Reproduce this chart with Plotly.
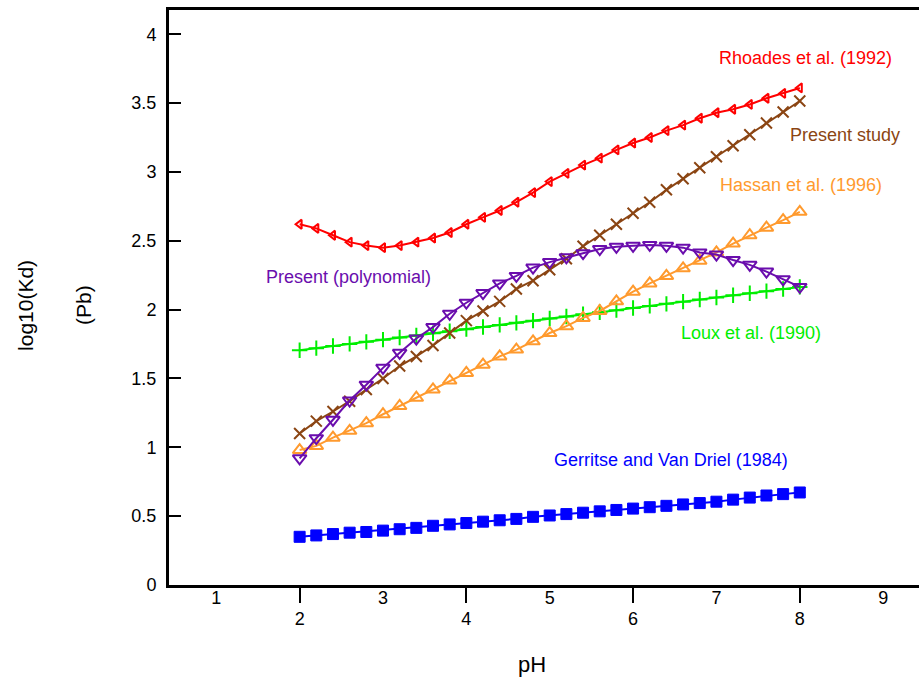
import plotly.graph_objects as go

# ---- data ----
ph = [2.0, 2.2, 2.4, 2.6, 2.8, 3.0, 3.2, 3.4, 3.6, 3.8, 4.0, 4.2, 4.4, 4.6, 4.8,
      5.0, 5.2, 5.4, 5.6, 5.8, 6.0, 6.2, 6.4, 6.6, 6.8, 7.0, 7.2, 7.4, 7.6, 7.8, 8.0]

rhoades = [2.62, 2.59, 2.54, 2.49, 2.465, 2.45, 2.465, 2.49, 2.52, 2.56, 2.62,
           2.67, 2.72, 2.78, 2.85, 2.93, 2.99, 3.05, 3.10, 3.16, 3.21,
           3.25, 3.30, 3.34, 3.39, 3.43, 3.455, 3.49, 3.535, 3.57, 3.61]

present_study = [1.10, 1.19, 1.26, 1.335, 1.42, 1.50, 1.59, 1.66, 1.74, 1.83, 1.92,
                 1.99, 2.06, 2.15, 2.21, 2.29, 2.37, 2.46, 2.54, 2.62, 2.70,
                 2.78, 2.87, 2.95, 3.03, 3.11, 3.19, 3.27, 3.355, 3.435, 3.515]

hassan = [0.98, 1.01, 1.07, 1.12, 1.175, 1.24, 1.30, 1.36, 1.42, 1.485, 1.54,
          1.60, 1.66, 1.71, 1.77, 1.83, 1.88, 1.94, 1.99, 2.06, 2.13,
          2.19, 2.245, 2.30, 2.355, 2.415, 2.48, 2.54, 2.595, 2.65, 2.71]

polynomial = [0.92, 1.066, 1.20, 1.34, 1.455, 1.577, 1.686, 1.79, 1.873, 1.97, 2.05,
              2.12, 2.19, 2.245, 2.305, 2.345, 2.38, 2.41, 2.44, 2.456, 2.463,
              2.47, 2.463, 2.45, 2.415, 2.40, 2.36, 2.325, 2.276, 2.22, 2.165]

loux = [1.705, 1.72, 1.736, 1.751, 1.766, 1.782, 1.797, 1.812, 1.828, 1.843, 1.858,
        1.874, 1.889, 1.904, 1.92, 1.935, 1.95, 1.966, 1.981, 1.996, 2.012,
        2.027, 2.042, 2.058, 2.073, 2.088, 2.104, 2.119, 2.134, 2.15, 2.165]

gerritse = [0.35, 0.36, 0.37, 0.38, 0.385, 0.395, 0.405, 0.415, 0.43, 0.44, 0.45,
            0.46, 0.47, 0.48, 0.495, 0.505, 0.515, 0.525, 0.535, 0.545, 0.555,
            0.565, 0.575, 0.585, 0.595, 0.605, 0.62, 0.635, 0.65, 0.66, 0.672]

series_names = ["Rhoades et al. (1992)", "Present study", "Hassan et al. (1996)",
                "Present (polynomial)", "Loux et al. (1990)", "Gerritse and Van Driel (1984)"]

x_even_ticks = [2, 4, 6, 8]
x_odd_ticks = [1, 3, 5, 7, 9]
y_ticks = [0, 0.5, 1, 1.5, 2, 2.5, 3, 3.5, 4]
y_tick_labels = ["0", "0.5", "1", "1.5", "2", "2.5", "3", "3.5", "4"]

# ---- styles ----
FONT = "Liberation Sans, Arial, sans-serif"
RED = "#ff0000"
BROWN = "#8b4513"
ORANGE = "#ff9a2e"
PURPLE = "#6a0dad"
GREEN = "#00ee00"
BLUE = "#0000ff"

X_RANGE = [0.433, 9.43]
Y_RANGE = [0, 4.176]

fig = go.Figure()

def add(y, color, symbol, size, name, lw_marker=2):
    fig.add_trace(go.Scatter(
        x=ph, y=y, mode="lines+markers", name=name,
        line=dict(color=color, width=2),
        marker=dict(symbol=symbol, size=size, color=color,
                    line=dict(color=color, width=lw_marker)),
        showlegend=False))

add(gerritse, BLUE, "square", 11, series_names[5], 1)
add(loux, GREEN, "cross-thin", 11, series_names[4])
add(hassan, ORANGE, "triangle-up-open", 12, series_names[2])
add(present_study, BROWN, "x-thin", 11, series_names[1])
add(polynomial, PURPLE, "triangle-down-open", 12, series_names[3])
add(rhoades, RED, "triangle-left-open", 8, series_names[0])

# invisible trace to carry the second (odd-label) x axis
fig.add_trace(go.Scatter(x=[X_RANGE[0]], y=[0], xaxis="x2", mode="markers",
                         marker=dict(opacity=0), showlegend=False, hoverinfo="skip"))

labels = [
    (series_names[0], 8.07, 3.83, RED),
    (series_names[1], 8.54, 3.27, BROWN),
    (series_names[2], 8.01, 2.905, ORANGE),
    (series_names[3], 2.59, 2.237, PURPLE),
    (series_names[4], 7.42, 1.83, GREEN),
    (series_names[5], 6.46, 0.908, BLUE),
]
for text, x, y, c in labels:
    fig.add_annotation(x=x, y=y, xref="x", yref="y", text=text, showarrow=False,
                       font=dict(family=FONT, size=18, color=c),
                       xanchor="center", yanchor="middle")

fig.add_annotation(x=0.484, y=-0.139, xref="paper", yref="paper", text="pH",
                   showarrow=False, font=dict(family=FONT, size=22, color="black"),
                   xanchor="center", yanchor="middle")
fig.add_annotation(x=-0.1907, y=0.487, xref="paper", yref="paper", text="log10(Kd)",
                   textangle=-90, showarrow=False,
                   font=dict(family=FONT, size=21, color="black"),
                   xanchor="center", yanchor="middle")
fig.add_annotation(x=-0.1133, y=0.487, xref="paper", yref="paper", text="(Pb)",
                   textangle=-90, showarrow=False,
                   font=dict(family=FONT, size=21, color="black"),
                   xanchor="center", yanchor="middle")

fig.update_layout(
    width=919, height=683,
    margin=dict(l=169, r=0, t=10, b=98),
    paper_bgcolor="white", plot_bgcolor="white",
    font=dict(family=FONT, size=18, color="black"),
    xaxis=dict(range=X_RANGE, showgrid=False, zeroline=False,
               showline=True, linecolor="black", linewidth=3, mirror=True,
               tickmode="array", tickvals=x_even_ticks,
               ticktext=[str(v) for v in x_even_ticks],
               ticks="outside", ticklen=15, tickwidth=2, tickcolor="black",
               tickfont=dict(family=FONT, size=18, color="black")),
    xaxis2=dict(range=X_RANGE, overlaying="x", anchor="y", side="bottom",
                showgrid=False, zeroline=False, showline=False,
                tickmode="array", tickvals=x_odd_ticks,
                ticktext=[str(v) for v in x_odd_ticks], ticks="",
                tickfont=dict(family=FONT, size=18, color="black")),
    yaxis=dict(range=Y_RANGE, showgrid=False, zeroline=False,
               showline=True, linecolor="black", linewidth=3,
               tickmode="array", tickvals=y_ticks, ticktext=y_tick_labels,
               ticks="inside", ticklen=12, tickwidth=2, tickcolor="black",
               ticklabelstandoff=6,
               tickfont=dict(family=FONT, size=18, color="black")),
)

fig.write_html("out.html")
